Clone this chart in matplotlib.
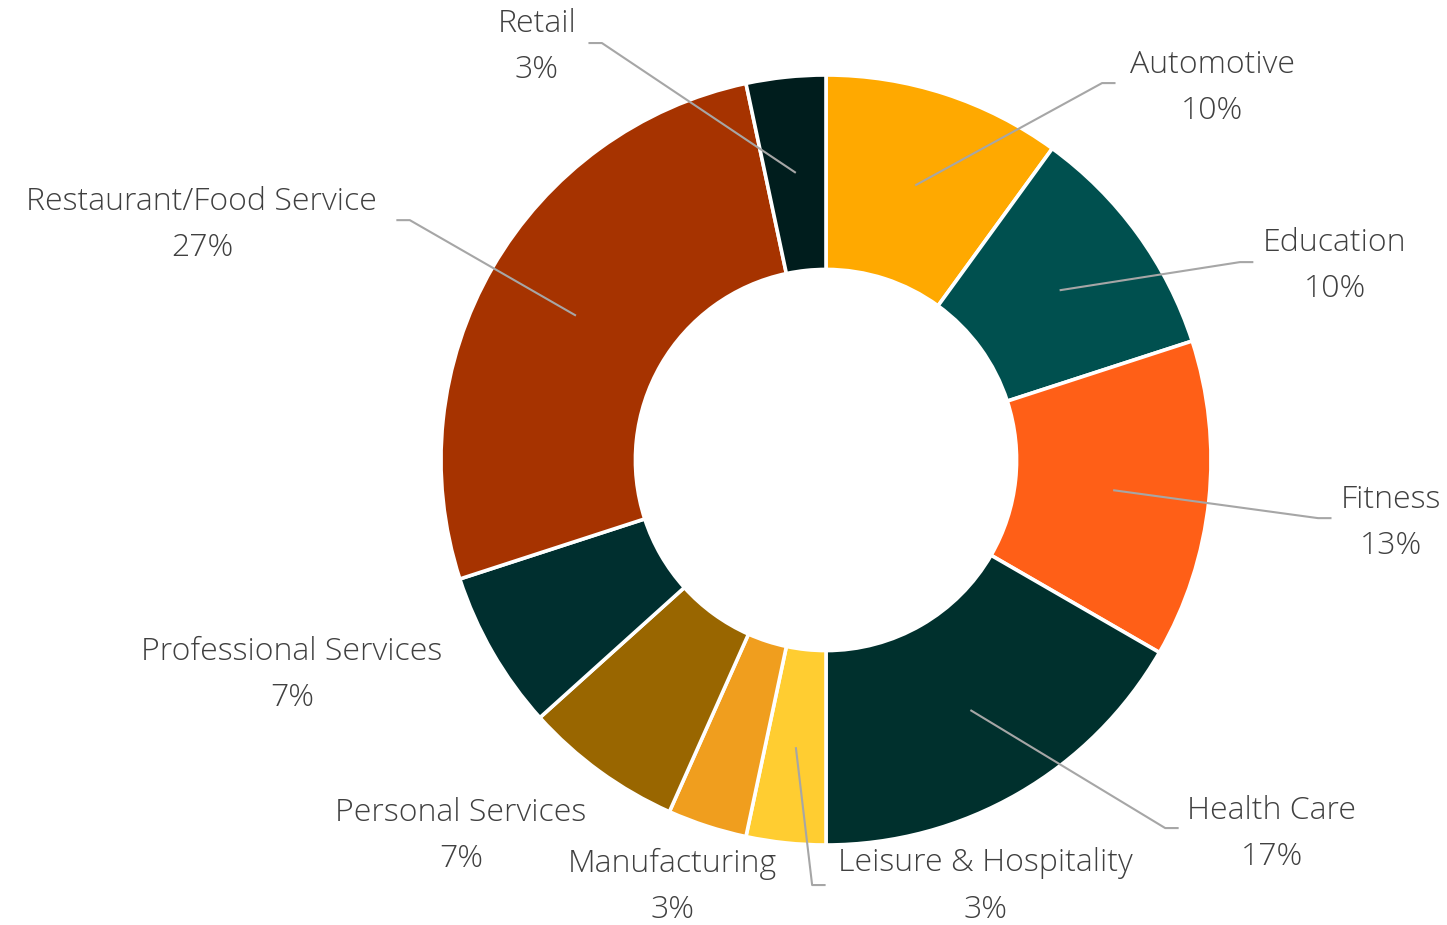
import matplotlib.pyplot as plt
import numpy as np

# data (counts, 30 total)
categories = ["Automotive", "Education", "Fitness", "Health Care",
              "Leisure & Hospitality", "Manufacturing", "Personal Services",
              "Professional Services", "Restaurant/Food Service", "Retail"]
counts = [3, 3, 4, 5, 1, 1, 2, 2, 8, 1]
colors = ["#FFA900", "#00504F", "#FF5F17", "#00302D", "#FFCD31",
          "#F09E1E", "#996600", "#002F2F", "#A63300", "#001D1D"]

# label centres and leader elbow points (None = no leader line)
label_pos = [(1.003, 0.977), (1.322, 0.514), (1.468, -0.153), (1.158, -0.961),
             (0.413, -1.098), (-0.40, -1.098), (-0.948, -0.966), (-1.387, -0.548),
             (-1.621, 0.621), (-0.751, 1.083)]
elbows = [(0.717, 0.979), (1.075, 0.514), (1.278, -0.151), (0.881, -0.956),
          (-0.036, -1.104), None, None, None,
          (-1.081, 0.623), (-0.582, 1.083)]

text_color = "#404040"
line_color = "#A6A6A6"
plt.rcParams['font.family'] = ['Open Sans', 'DejaVu Sans']

fig = plt.figure(figsize=(14.47, 9.25), dpi=100)
ax = fig.add_axes([0, 0, 1, 1])

wedges, _ = ax.pie(counts, colors=colors, startangle=90, counterclock=False,
                   radius=1, wedgeprops=dict(width=0.505, edgecolor="white", linewidth=2.6))

s = 385.0
ax.set_xlim(-826 / s, (1447 - 826) / s)
ax.set_ylim(-465 / s, 460 / s)
ax.set_aspect("equal")
ax.axis("off")

total = sum(counts)
for w, name, c, pos, el in zip(wedges, categories, counts, label_pos, elbows):
    pct = round(100 * c / total)
    lx, ly = pos
    ax.text(lx, ly + 0.05, name, ha="center", va="center", fontsize=23,
            color=text_color, fontweight="light")
    ax.text(lx, ly - 0.07, f"{pct}%", ha="center", va="center", fontsize=23,
            color=text_color, fontweight="light")
    if el is not None:
        mid = np.deg2rad((w.theta1 + w.theta2) / 2)
        sx, sy = 0.75 * np.cos(mid), 0.75 * np.sin(mid)
        ex, ey = el
        step = 0.035 if lx > ex else -0.035
        ax.plot([sx, ex, ex + step], [sy, ey, ey], color=line_color, lw=1.5,
                solid_capstyle="butt", zorder=3)

fig.savefig("out.png", dpi=100)
